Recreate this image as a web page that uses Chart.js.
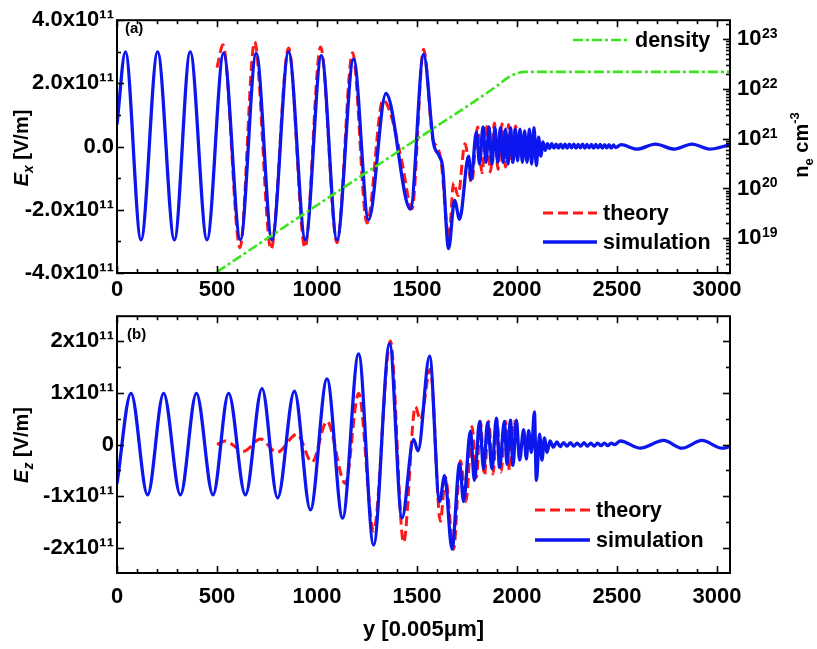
<!DOCTYPE html>
<html><head><meta charset="utf-8">
<script src="https://cdn.jsdelivr.net/npm/chart.js@4.4.1/dist/chart.umd.min.js"></script>
<style>
html,body{margin:0;padding:0;background:#fff;width:817px;height:649px;overflow:hidden}
canvas{position:absolute;left:0}
#c1{top:0}
#c2{top:300px}
</style></head><body>
<canvas id="c1" width="817" height="300"></canvas>
<canvas id="c2" width="817" height="349"></canvas>
<script>
// ---------- data (fields in units of 10^11 V/m, density in cm^-3) ----------
const exSimX = [0,42,120,203,287,366,450,533,617,696,775,858,942,1022,1100,1183,1258,1345,1467,1533,1583,1610,1628,1658,1688,1713,1758,1770,1797,1813,1830,1845,1860,1875,1890,1903,1917,1930,1943,1955,1968,1980,1992,2003,2015,2027,2038,2050,2062,2073,2085,2097,2108,2119,2130,2141,
  2152,2163,2174,2185,2196,2207,2218,2229,2240,2251,2262,2273,2284,2295,2306,2317,2328,2339,2350,2361,2372,2383,2394,2405,2416,2427,2438,2449,2460,2471,2482,2493,
  2520,2600,2692,2787,2875,2963,3065];
const exSimY = [0.7,3.0,-2.95,3.0,-2.95,3.0,-2.95,2.95,-2.95,2.95,-2.95,3.0,-2.95,2.88,-2.95,2.77,-2.32,1.68,-1.98,2.92,0.1,-0.28,-0.65,-3.23,-1.7,-2.3,-0.3,-1.04,0.46,-0.55,0.62,-0.5,0.62,-0.55,0.6,-0.5,0.6,-0.5,0.55,-0.55,0.6,-0.5,0.55,-0.45,0.55,-0.5,0.5,-0.5,0.55,-0.55,0.6,-0.6,0.3,-0.3,0.15,-0.12,
  0.09,-0.06,0.09,-0.05,0.08,-0.05,0.08,-0.05,0.08,-0.05,0.08,-0.04,0.08,-0.05,0.07,-0.04,0.08,-0.05,0.07,-0.04,0.07,-0.05,0.07,-0.04,0.07,-0.05,0.06,-0.04,0.06,-0.05,0.05,-0.03,
  0.06,-0.08,0.08,-0.08,0.08,-0.08,0.06];
const exTheoryX = [500,530,615,688,770,858,940,1018,1100,1178,1250,1330,1372,1425,1475,1533,1580,1600,1620,1660,1683,1705,1740,1773,1803,1825,1847,1867,1887,1905,1925,1942,1958,1975,1992,2000];
const exTheoryY = [2.5,3.22,-3.2,3.32,-3.25,3.12,-3.2,3.15,-3.04,2.97,-2.42,1.48,0.95,-0.5,-1.97,3.08,0.2,0.0,-0.45,-2.9,-1.14,-1.55,0.09,-1.15,0.62,-0.83,0.72,-0.8,0.75,-0.72,0.72,-0.65,0.7,-0.55,0.65,0.5];
const densityX = [500,1000,1500,1900,1960,2000,2040,3065];
const densityY = [2.1e18,4.6e19,9.8e20,1.15e22,1.75e22,2.05e22,2.2e22,2.2e22];

const ezSimX = [0,70,153,233,317,397,480,558,642,725,803,887,967,1050,1128,1208,1283,1363,1425,1483,1505,1563,1613,1638,1675,1713,1733,1767,1787,1813,1833,1853,1875,1897,1913,1937,1950,1967,1980,1997,2013,2033,2047,2058,2072,2087,2097,2113,2125,2137,2150,
  2165,2182,2199,2216,2233,2250,2267,2284,2301,2318,2335,2352,2369,2386,2403,2420,2437,2454,2471,2488,
  2517,2617,2733,2825,2925,3025,3065];
const ezSimY = [-0.75,0.99,-0.97,0.99,-0.97,0.99,-0.97,0.99,-0.97,1.08,-1.03,1.03,-1.26,1.27,-1.42,1.75,-1.94,1.95,-1.42,0.1,-0.12,1.71,-1.1,-0.6,-2.02,-0.37,-1.1,0.26,-0.69,0.45,-0.47,0.43,-0.47,0.51,-0.44,0.45,-0.38,0.47,-0.4,0.47,-0.3,0.29,-0.28,0.27,-0.15,0.63,-0.69,0.2,-0.3,0.13,-0.15,
  0.07,-0.05,0.05,-0.04,0.04,-0.03,0.04,-0.03,0.03,-0.03,0.04,-0.03,0.03,-0.03,0.03,-0.02,0.03,-0.02,0.03,0.0,
  0.07,-0.07,0.08,-0.07,0.08,-0.07,-0.04];
const ezTheoryX = [500,541,633,717,800,900,975,1050,1142,1208,1283,1367,1433,1492,1517,1567,1617,1642,1683,1717,1745,1775,1797,1817,1837,1858,1880,1900,1920,1942,1963,1983,2000];
const ezTheoryY = [0.0,0.07,-0.13,0.11,-0.15,0.2,-0.34,0.45,-0.75,0.99,-1.67,2.0,-1.89,0.73,0.48,1.46,-1.48,-0.63,-2.02,-0.31,-1.1,0.35,-0.63,0.45,-0.6,0.45,-0.57,0.45,-0.53,0.45,-0.5,0.45,0.2];

// ---------- tick labels ----------
const xTickValues = [0,500,1000,1500,2000,2500,3000];
const exTickValues = [-4,-2,0,2,4];
const exTickLabels = ["-4.0x10¹¹","-2.0x10¹¹","0.0","2.0x10¹¹","4.0x10¹¹"];
const ezTickValues = [-2,-1,0,1,2];
const ezTickLabels = ["-2x10¹¹","-1x10¹¹","0","1x10¹¹","2x10¹¹"];
const densTickValues = [1e19,1e20,1e21,1e22,1e23];
const densTickBase = "10";
const densTickExp = ["19","20","21","22","23"];

const X_MAX = 3065;
const BLUE = 'rgb(12,22,238)', RED = 'rgb(255,24,24)', GREEN = 'rgb(60,228,30)';
const FAM = "'Liberation Sans', Arial, Helvetica, sans-serif";
const TICK_SIZE = 22;
Chart.defaults.font.family = FAM;
Chart.defaults.color = '#000';

const pts = (xs, ys) => xs.map((x, i) => ({x: x, y: ys[i]}));

function tickFont(){ return {family: FAM, size: TICK_SIZE, weight: 'bold'}; }

function xScale(height, pad, withTitle){
  const s = {
    type: 'linear', min: 0, max: X_MAX,
    grid: {display: false, drawTicks: false}, border: {display: false},
    afterBuildTicks: sc => { sc.ticks = xTickValues.map(v => ({value: v})); },
    ticks: {padding: pad, font: tickFont(), color: '#000', maxRotation: 0, autoSkip: false,
            callback: (v, i) => String(xTickValues[i])},
    afterFit: sc => { sc.height = height; }
  };
  if (withTitle) s.title = {display: true, text: 'y [0.005μm]', font: {family: FAM, size: 22, weight: 'bold'}, color: '#000', padding: {top: 0, bottom: 6}};
  return s;
}

function frameTicks(opts){
  return {
    id: 'frameTicks',
    afterDatasetsDraw(chart){
      const ctx = chart.ctx, a = chart.chartArea;
      ctx.save();
      ctx.strokeStyle = '#000';
      ctx.lineWidth = 1.6;
      const seg = (x1, y1, x2, y2) => { ctx.beginPath(); ctx.moveTo(x1, y1); ctx.lineTo(x2, y2); ctx.stroke(); };
      const xs = chart.scales.x;
      for (let k = 0; k * 100 <= X_MAX; k++) {
        const p = Math.round(xs.getPixelForValue(k * 100)) + 0.5;
        const L = (k % 5 === 0) ? 7 : 4;
        seg(p, a.bottom, p, a.bottom - L);
        seg(p, a.top, p, a.top + L);
      }
      const ys = chart.scales.y;
      const n0 = Math.ceil(ys.min / opts.minor - 1e-9), n1 = Math.floor(ys.max / opts.minor + 1e-9);
      for (let k = n0; k <= n1; k++) {
        const p = Math.round(ys.getPixelForValue(k * opts.minor)) + 0.5;
        const L = (k % opts.ratio === 0) ? 7 : 4;
        seg(a.left, p, a.left + L, p);
        if (!opts.logRight) seg(a.right, p, a.right - L, p);
      }
      if (opts.logRight) {
        const ls = chart.scales.yD;
        for (let d = 18; d <= 23; d++) {
          for (let m = 1; m <= 9; m++) {
            const v = m * Math.pow(10, d);
            if (v < ls.min || v > ls.max) continue;
            const p = Math.round(ls.getPixelForValue(v)) + 0.5;
            seg(a.right, p, a.right - (m === 1 ? 7 : 4), p);
          }
        }
      }
      ctx.lineWidth = 2;
      ctx.strokeRect(a.left, a.top, a.right - a.left, a.bottom - a.top);
      ctx.restore();
    }
  };
}

function richRotated(ctx, parts, x, y){
  ctx.save();
  ctx.translate(x, y);
  ctx.rotate(-Math.PI / 2);
  ctx.textBaseline = 'alphabetic';
  ctx.textAlign = 'left';
  ctx.fillStyle = '#000';
  let total = 0;
  parts.forEach(p => { ctx.font = p.f; total += ctx.measureText(p.t).width; });
  let cur = -total / 2;
  parts.forEach(p => { ctx.font = p.f; ctx.fillText(p.t, cur, p.dy || 0); cur += ctx.measureText(p.t).width; });
  ctx.restore();
}

function decorations(opts){
  return {
    id: 'decor',
    afterDraw(chart){
      const ctx = chart.ctx;
      const a = chart.chartArea;
      // legend
      opts.legend.forEach(it => {
        const ds = chart.data.datasets[it.ds];
        ctx.save();
        ctx.strokeStyle = ds.borderColor;
        ctx.lineWidth = ds.borderWidth;
        ctx.setLineDash(ds.borderDash || []);
        ctx.beginPath(); ctx.moveTo(it.x1, it.y); ctx.lineTo(it.x2, it.y); ctx.stroke();
        ctx.setLineDash([]);
        ctx.fillStyle = '#000';
        ctx.font = 'bold 21.5px ' + FAM;
        ctx.textBaseline = 'middle';
        ctx.textAlign = 'left';
        ctx.fillText(ds.label, it.tx, it.y + 1);
        ctx.restore();
      });
      // exponents of the log-axis tick labels
      if (chart.scales.yD) {
        const ls = chart.scales.yD;
        ctx.save();
        ctx.font = 'bold ' + TICK_SIZE + 'px ' + FAM;
        const w = ctx.measureText(densTickBase).width;
        ctx.font = 'bold 14px ' + FAM;
        ctx.fillStyle = '#000';
        ctx.textBaseline = 'alphabetic';
        ctx.textAlign = 'left';
        densTickValues.forEach((v, i) => {
          const p = ls.getPixelForValue(v);
          ctx.fillText(densTickExp[i], a.right + 7 + w + 0.5, p - 1);
        });
        ctx.restore();
      }
      // panel label
      ctx.save();
      ctx.fillStyle = '#000';
      ctx.font = 'bold 15px ' + FAM;
      ctx.textBaseline = 'middle';
      ctx.fillText(opts.panel.t, opts.panel.x, opts.panel.y);
      ctx.restore();
      // axis titles
      richRotated(ctx, [
        {t: 'E', f: 'italic bold 20px ' + FAM},
        {t: opts.sub, f: 'italic bold 14px ' + FAM, dy: 5},
        {t: ' [V/m]', f: 'bold 20px ' + FAM}
      ], 28, opts.leftTitleY);
      if (opts.rightTitle) {
        richRotated(ctx, [
          {t: 'n', f: 'bold 20px ' + FAM},
          {t: 'e', f: 'bold 13px ' + FAM, dy: 5},
          {t: ' cm', f: 'bold 20px ' + FAM},
          {t: '-3', f: 'bold 13px ' + FAM, dy: -9}
        ], 808, 145);
      }
    }
  };
}

const common = {
  responsive: false, animation: false, devicePixelRatio: 1, events: [],
  plugins: {legend: {display: false}, tooltip: {enabled: false}},
  elements: {point: {radius: 0}}
};

// ---------- panel (a) ----------
new Chart(document.getElementById('c1'), {
  type: 'line',
  data: {datasets: [
    {label: 'density', data: pts(densityX, densityY), yAxisID: 'yD', borderColor: GREEN, borderWidth: 2.6, borderDash: [10, 3, 3, 3], cubicInterpolationMode: 'monotone', pointRadius: 0, order: 0},
    {label: 'simulation', data: pts(exSimX, exSimY), yAxisID: 'y', borderColor: BLUE, borderWidth: 3.3, cubicInterpolationMode: 'monotone', pointRadius: 0, order: 1},
    {label: 'theory', data: pts(exTheoryX, exTheoryY), yAxisID: 'y', borderColor: RED, borderWidth: 3, borderDash: [10, 5], cubicInterpolationMode: 'monotone', pointRadius: 0, order: 2}
  ]},
  options: Object.assign({}, common, {
    layout: {padding: {top: 13, left: 0, right: 0, bottom: 0}},
    scales: {
      x: xScale(27, 4, false),
      y: {type: 'linear', position: 'left', min: -4, max: 4,
          grid: {display: false, drawTicks: false}, border: {display: false},
          afterBuildTicks: sc => { sc.ticks = exTickValues.map(v => ({value: v})); },
          ticks: {padding: 3, font: tickFont(), color: '#000', autoSkip: false, callback: (v, i) => exTickLabels[i]},
          afterFit: sc => { sc.width = 117; }},
      yD: {type: 'logarithmic', position: 'right', min: 2.0e18, max: 2.4e23,
          grid: {display: false, drawTicks: false}, border: {display: false},
          afterBuildTicks: sc => { sc.ticks = densTickValues.map(v => ({value: v})); },
          ticks: {padding: 7, font: tickFont(), color: '#000', autoSkip: false, callback: () => densTickBase},
          afterFit: sc => { sc.width = 87; }}
    }
  }),
  plugins: [frameTicks({minor: 1, ratio: 2, logRight: true}), decorations({
    legend: [
      {ds: 0, x1: 573, x2: 630, y: 40, tx: 635},
      {ds: 2, x1: 543, x2: 597, y: 213, tx: 603},
      {ds: 1, x1: 543, x2: 597, y: 242, tx: 603}
    ],
    panel: {t: '(a)', x: 125, y: 29},
    sub: 'x', leftTitleY: 148, rightTitle: true
  })]
});

// ---------- panel (b) ----------
new Chart(document.getElementById('c2'), {
  type: 'line',
  data: {datasets: [
    {label: 'simulation', data: pts(ezSimX, ezSimY), borderColor: BLUE, borderWidth: 3.3, cubicInterpolationMode: 'monotone', pointRadius: 0, order: 1},
    {label: 'theory', data: pts(ezTheoryX, ezTheoryY), borderColor: RED, borderWidth: 3, borderDash: [10, 5], cubicInterpolationMode: 'monotone', pointRadius: 0, order: 2}
  ]},
  options: Object.assign({}, common, {
    layout: {padding: {top: 12, left: 0, right: 87, bottom: 0}},
    scales: {
      x: xScale(76, 11, true),
      y: {type: 'linear', position: 'left', min: -2.48, max: 2.48,
          grid: {display: false, drawTicks: false}, border: {display: false},
          afterBuildTicks: sc => { sc.ticks = ezTickValues.map(v => ({value: v})); },
          ticks: {padding: 3, font: tickFont(), color: '#000', autoSkip: false, callback: (v, i) => ezTickLabels[i]},
          afterFit: sc => { sc.width = 117; }}
    }
  }),
  plugins: [frameTicks({minor: 0.5, ratio: 2, logRight: false}), decorations({
    legend: [
      {ds: 1, x1: 535, x2: 590, y: 210, tx: 596},
      {ds: 0, x1: 535, x2: 590, y: 240, tx: 596}
    ],
    panel: {t: '(b)', x: 127, y: 35},
    sub: 'z', leftTitleY: 145, rightTitle: false
  })]
});
</script>
</body></html>
